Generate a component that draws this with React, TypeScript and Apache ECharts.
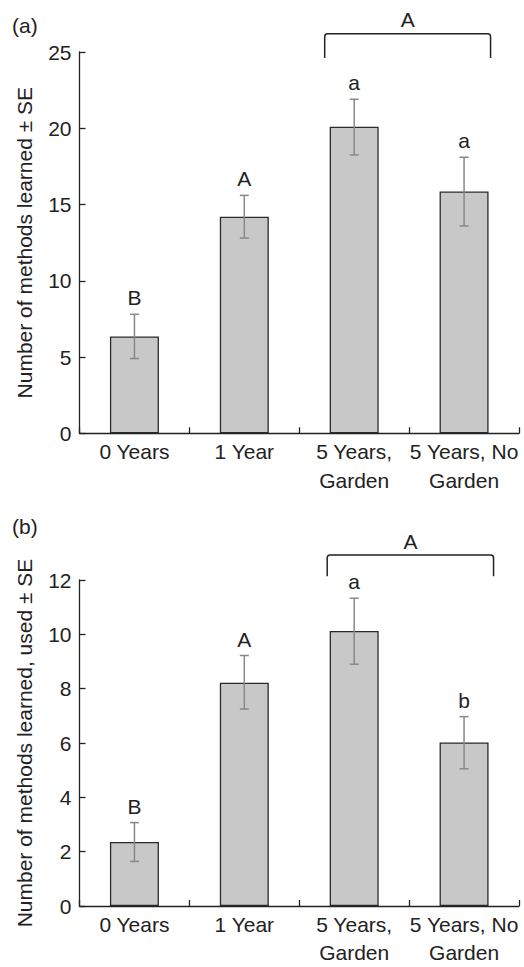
import React, { useEffect, useRef } from "react";
import * as echarts from "echarts";

const categories = ["0 Years", "1 Year", "5 Years,\nGarden", "5 Years, No\nGarden"];

// Panel (a): Number of methods learned
const meansA = [6.35, 14.2, 20.1, 15.85];
const seLowA = [4.9, 12.8, 18.25, 13.6];
const seHighA = [7.8, 15.6, 21.9, 18.1];
const lettersA = ["B", "A", "a", "a"];
const yMaxA = 25;
const yStepA = 5;
const bracketCatsA = [2, 3];
const bracketLevelsA = [26.2, 24.6];
const bracketLabelA = "A";

// Panel (b): Number of methods learned, used
const meansB = [2.36, 8.22, 10.12, 6.02];
const seLowB = [1.64, 7.25, 8.9, 5.05];
const seHighB = [3.07, 9.22, 11.33, 6.97];
const lettersB = ["B", "A", "a", "b"];
const yMaxB = 12;
const yStepB = 2;
const bracketCatsB = [2, 3];
const bracketLevelsB = [12.92, 12.14];
const bracketLabelB = "A";

const FONT = "'Liberation Sans', Arial, sans-serif";
const FS = 21;
const TXT = "#222";

function errorSeries(idx: number, lows: number[], highs: number[], letters: string[]) {
  return {
    type: "custom",
    xAxisIndex: idx,
    yAxisIndex: idx,
    clip: false,
    z: 5,
    data: lows.map((lo, i) => [i, lo, highs[i]]),
    renderItem: (params: any, api: any) => {
      const i = api.value(0);
      const lo = api.coord([i, api.value(1)]);
      const hi = api.coord([i, api.value(2)]);
      const cap = 4.5;
      const ls = { stroke: "#888", lineWidth: 1.5 };
      return {
        type: "group",
        children: [
          { type: "line", shape: { x1: lo[0], y1: lo[1], x2: hi[0], y2: hi[1] }, style: ls },
          { type: "line", shape: { x1: hi[0] - cap, y1: hi[1], x2: hi[0] + cap, y2: hi[1] }, style: ls },
          { type: "line", shape: { x1: lo[0] - cap, y1: lo[1], x2: lo[0] + cap, y2: lo[1] }, style: ls },
          {
            type: "text",
            x: hi[0],
            y: hi[1] - 16.5,
            style: {
              text: letters[params.dataIndex],
              fill: TXT,
              font: `${FS}px ${FONT}`,
              align: "center",
              verticalAlign: "middle",
            },
          },
        ],
      };
    },
  };
}

function bracketSeries(idx: number, cats: number[], levels: number[], label: string, offL: number, offR: number) {
  return {
    type: "custom",
    xAxisIndex: idx,
    yAxisIndex: idx,
    clip: false,
    z: 5,
    data: [[cats[0], cats[1], levels[0], levels[1]]],
    renderItem: (params: any, api: any) => {
      const a = api.coord([api.value(0), api.value(2)]);
      const b = api.coord([api.value(1), api.value(3)]);
      const l = a[0] + offL;
      const r = b[0] + offR;
      const t = a[1];
      const bot = b[1];
      const rad = 3;
      const d = `M${l},${bot} L${l},${t + rad} Q${l},${t} ${l + rad},${t} L${r - rad},${t} Q${r},${t} ${r},${t + rad} L${r},${bot}`;
      return {
        type: "group",
        children: [
          {
            type: "path",
            shape: { pathData: d },
            style: { stroke: "#222", lineWidth: 1.5, fill: null },
          },
          {
            type: "text",
            x: (l + r) / 2,
            y: t - 14,
            style: {
              text: label,
              fill: TXT,
              font: `${FS}px ${FONT}`,
              align: "center",
              verticalAlign: "middle",
            },
          },
        ],
      };
    },
  };
}

function xAxis(idx: number) {
  return {
    type: "category",
    gridIndex: idx,
    data: categories,
    boundaryGap: true,
    axisLine: { show: true, lineStyle: { color: "#222", width: 1.3 } },
    axisTick: { show: true, inside: true, length: 6, alignWithLabel: false, lineStyle: { color: "#222", width: 1.3 } },
    axisLabel: { interval: 0, color: TXT, fontSize: FS, fontFamily: FONT, lineHeight: 28.5, margin: 4 },
    splitLine: { show: false },
  };
}

function yAxis(idx: number, max: number, step: number, name: string) {
  return {
    type: "value",
    gridIndex: idx,
    min: 0,
    max,
    interval: step,
    name,
    nameLocation: "middle",
    nameGap: 45,
    nameTextStyle: { color: TXT, fontSize: FS, fontFamily: FONT },
    axisLine: { show: true, lineStyle: { color: "#222", width: 1.3 } },
    axisTick: { show: true, inside: true, length: 6, lineStyle: { color: "#222", width: 1.3 } },
    axisLabel: { color: TXT, fontSize: FS, fontFamily: FONT, margin: 8 },
    splitLine: { show: false },
  };
}

function barSeries(idx: number, values: number[]) {
  return {
    type: "bar",
    xAxisIndex: idx,
    yAxisIndex: idx,
    data: values,
    barWidth: 49,
    itemStyle: { color: "#c8c8c8", borderColor: "#2a2a2a", borderWidth: 1.3 },
    z: 2,
  };
}

export default function App() {
  const ref = useRef<HTMLDivElement>(null);
  useEffect(() => {
    if (!ref.current) return;
    const chart = echarts.init(ref.current, undefined, { renderer: "svg" });
    chart.setOption({
      animation: false,
      backgroundColor: "#fff",
      textStyle: { fontFamily: FONT },
      grid: [
        { left: 79.5, top: 52, width: 439.5, height: 381.3 },
        { left: 79.5, top: 580, width: 439.5, height: 333.3 },
      ],
      xAxis: [xAxis(0), xAxis(1)],
      yAxis: [
        yAxis(0, yMaxA, yStepA, "Number of methods learned ± SE"),
        yAxis(1, yMaxB, yStepB, "Number of methods learned, used ± SE"),
      ],
      graphic: [
        { type: "text", left: 12, top: 14.5, style: { text: "(a)", fill: TXT, font: `${FS}px ${FONT}` } },
        { type: "text", left: 12, top: 516, style: { text: "(b)", fill: TXT, font: `${FS}px ${FONT}` } },
      ],
      series: [
        barSeries(0, meansA),
        errorSeries(0, seLowA, seHighA, lettersA),
        bracketSeries(0, bracketCatsA, bracketLevelsA, bracketLabelA, -29.5, 26.5),
        barSeries(1, meansB),
        errorSeries(1, seLowB, seHighB, lettersB),
        bracketSeries(1, bracketCatsB, bracketLevelsB, bracketLabelB, -27, 29.5),
      ],
    });
    return () => chart.dispose();
  }, []);
  return (
    <div
      ref={ref}
      style={{ position: "fixed", left: 0, top: 0, width: 524, height: 967, background: "#fff" }}
    />
  );
}
